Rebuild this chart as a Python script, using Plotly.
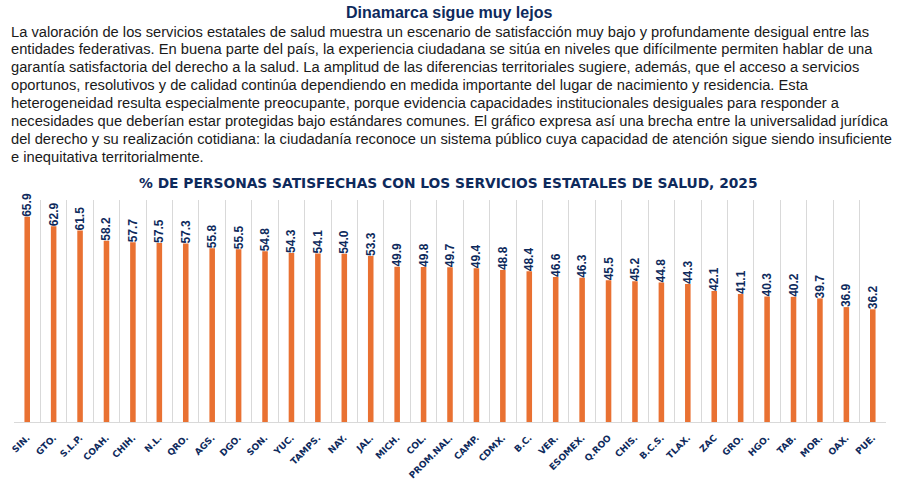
import plotly.graph_objects as go

# Datos
estados = ["SIN.", "GTO.", "S.L.P.", "COAH.", "CHIH.", "N.L.", "QRO.", "AGS.", "DGO.",
           "SON.", "YUC.", "TAMPS.", "NAY.", "JAL.", "MICH.", "COL.", "PROM.NAL.",
           "CAMP.", "CDMX.", "B.C.", "VER.", "ESOMEX.", "Q.ROO", "CHIS.", "B.C.S.",
           "TLAX.", "ZAC", "GRO.", "HGO.", "TAB.", "MOR.", "OAX.", "PUE."]
satisfechos = [65.9, 62.9, 61.5, 58.2, 57.7, 57.5, 57.3, 55.8, 55.5,
               54.8, 54.3, 54.1, 54.0, 53.3, 49.9, 49.8, 49.7,
               49.4, 48.8, 48.4, 46.6, 46.3, 45.5, 45.2, 44.8,
               44.3, 42.1, 41.1, 40.3, 40.2, 39.7, 36.9, 36.2]

titulo = "Dinamarca sigue muy lejos"
parrafo = [
    "La valoración de los servicios estatales de salud muestra un escenario de satisfacción muy bajo y profundamente desigual entre las",
    "entidades federativas. En buena parte del país, la experiencia ciudadana se sitúa en niveles que difícilmente permiten hablar de una",
    "garantía satisfactoria del derecho a la salud. La amplitud de las diferencias territoriales sugiere, además, que el acceso a servicios",
    "oportunos, resolutivos y de calidad continúa dependiendo en medida importante del lugar de nacimiento y residencia. Esta",
    "heterogeneidad resulta especialmente preocupante, porque evidencia capacidades institucionales desiguales para responder a",
    "necesidades que deberían estar protegidas bajo estándares comunes. El gráfico expresa así una brecha entre la universalidad jurídica",
    "del derecho y su realización cotidiana: la ciudadanía reconoce un sistema público cuya capacidad de atención sigue siendo insuficiente",
    "e inequitativa territorialmente.",
]
titulo_grafico = "% DE PERSONAS SATISFECHAS CON LOS SERVICIOS ESTATALES DE SALUD, 2025"

NAVY = "#0E2A5C"
NARANJA = "#E97132"

W, H = 900, 482
top, bottom = 200, 422
left, right = 14, 886


def px_y(py):
    return (bottom - py) / (bottom - top)


def px_x(px):
    return (px - left) / (right - left)


fig = go.Figure()
fig.add_trace(go.Bar(
    x=estados,
    y=satisfechos,
    marker=dict(color=NARANJA, line=dict(width=0)),
    texttemplate="%{y:.1f}",
    textposition="outside",
    textangle=-90,
    constraintext="none",
    cliponaxis=False,
    textfont=dict(family="Liberation Sans", size=12, color=NAVY, weight="bold"),
    hoverinfo="x+y",
))

anotaciones = [
    dict(text=titulo, x=px_x(449), y=px_y(12),
         font=dict(family="Liberation Sans", size=16, color=NAVY, weight="bold")),
    dict(text=titulo_grafico, x=px_x(448), y=px_y(183),
         font=dict(family="DejaVu Sans", size=13.8, color=NAVY, weight="bold")),
]
for i, linea in enumerate(parrafo):
    anotaciones.append(dict(text=linea, x=px_x(9), y=px_y(31.5 + i * 17.9), xanchor="left",
                            font=dict(family="Liberation Sans", size=14.7, color="#1a1a1a")))
for a in anotaciones:
    a.update(xref="paper", yref="paper", yanchor="middle", showarrow=False)

fig.update_layout(
    width=W,
    height=H,
    margin=dict(l=left, r=W - right, t=top, b=H - bottom),
    plot_bgcolor="white",
    paper_bgcolor="white",
    bargap=0.79,
    showlegend=False,
    annotations=anotaciones,
    xaxis=dict(
        type="category",
        automargin=False,
        tickson="boundaries",
        showgrid=True,
        gridcolor="#D9D9D9",
        gridwidth=1,
        showline=True,
        linecolor="#D9D9D9",
        ticks="",
        tickangle=-45,
        ticklabelstandoff=6,
        tickfont=dict(family="DejaVu Sans", size=9, color=NAVY, weight="bold"),
    ),
    yaxis=dict(
        range=[0, 71.3],
        visible=False,
        showgrid=False,
        zeroline=False,
        automargin=False,
    ),
)

# quitar el margen por defecto del body para que la figura empiece en (0, 0)
fig.write_html("out.html", config={"displayModeBar": False},
               post_script="document.body.style.margin='0px';")
